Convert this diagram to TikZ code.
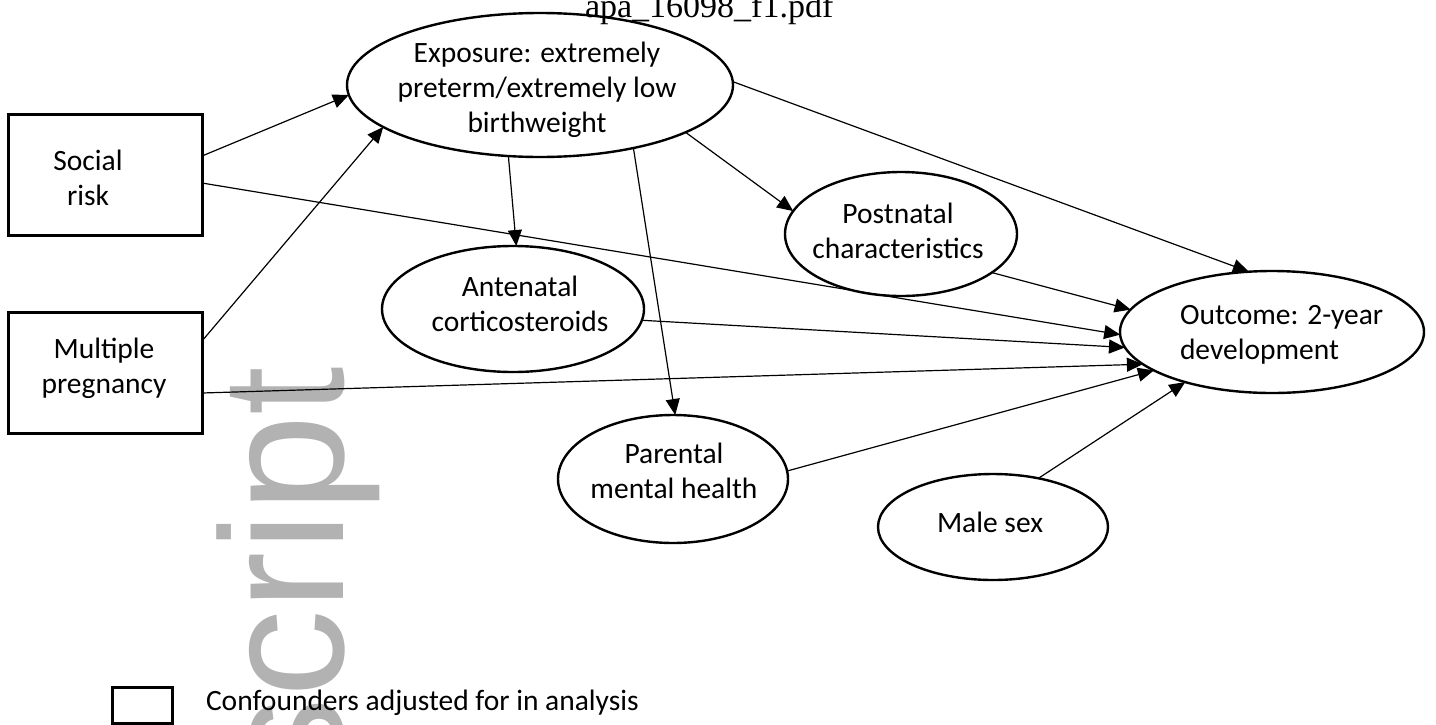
\documentclass[tikz,border=0pt]{standalone}
\usepackage{fontspec}
\setmainfont{Carlito}
\newfontfamily\titlefont{Liberation Serif}
\newfontfamily\wmfont{Liberation Sans}
\usetikzlibrary{arrows.meta,shapes.geometric}
\begin{document}
\begin{tikzpicture}[x=0.5pt,y=-0.5pt,
  every node/.style={inner sep=0pt, outer sep=0pt},
  lbl/.style={font=\fontsize{14.75pt}{17.5pt}\selectfont, align=center},
  conf/.style={draw, line width=1.5pt, rectangle, minimum width=97pt, minimum height=60.5pt},
  var/.style={draw, line width=1.2pt, ellipse},
  link/.style={line width=0.6pt, -{Triangle[length=8pt,width=7pt]}},
]
\useasboundingbox (0,0) rectangle (1436,724);
% watermark
\begin{scope}
\clip (0,0) rectangle (1436,724);
\node[rotate=90, anchor=base east, text=black!30, font=\wmfont\fontsize{87.5pt}{87.5pt}\selectfont] (wm) at (343,367) {script};
\end{scope}
% title
\node[anchor=base west, font=\titlefont\fontsize{17pt}{20pt}\selectfont] (title) at (585,17) {apa\_16098\_f1.pdf};
% confounders
\node[conf] (soc) at (105,174.5) {};
\node[conf] (mul) at (105,372.5) {};
\node[lbl] (socT) at (88,178) {Social\\risk};
\node[lbl] (mulT) at (104,368) {Multiple\\pregnancy};
% variables
\node[var, minimum width=193pt, minimum height=72pt] (exp) at (540,85) {};
\node[var, minimum width=131pt, minimum height=63pt] (ant) at (513,309) {};
\node[var, minimum width=116pt, minimum height=62pt] (pos) at (901,234) {};
\node[var, minimum width=115pt, minimum height=64pt] (par) at (673,479) {};
\node[var, minimum width=115pt, minimum height=53pt] (mal) at (993,527) {};
\node[var, minimum width=152pt, minimum height=61pt] (out) at (1272,332) {};
\node[lbl] (expT) at (537,90) {Exposure: extremely\\preterm/extremely low\\birthweight};
\node[lbl] (antT) at (520,304) {Antenatal\\corticosteroids};
\node[lbl] (posT) at (898,231) {Postnatal\\characteristics};
\node[lbl, align=left, anchor=west] (outT) at (1180,335) {Outcome: 2-year\\development};
\node[lbl] (parT) at (674,471) {Parental\\mental health};
\node[lbl] (malT) at (990,522) {Male sex};
% legend
\node[draw, line width=1.5pt, minimum width=30pt, minimum height=18pt] (leg) at (142,705) {};
\node[lbl, anchor=base west] (legT) at (206,710) {Confounders adjusted for in analysis};
% connectors
\draw[link] ([yshift=9.25pt]soc.east) -- (exp.183);
\draw[link] ([yshift=-4.25pt]soc.east) -- (out.181.5);
\draw[link] ([yshift=15.75pt]mul.east) -- (exp.195);
\draw[link] ([yshift=-10.25pt]mul.east) -- (out.194);
\draw[link] (exp.246) -- (ant.87);
\draw[link] (exp.326) -- (par.88);
\draw[link] (exp.342) -- (pos.168);
\draw[link] (exp.1) -- (out.111);
\draw[link] (pos.337) -- (out.171);
\draw[link] (ant.355) -- (out.186);
\draw[link] (par.4.5) -- (out.198.7);
\draw[link] (mal.47) -- (out.210.5);
\end{tikzpicture}
\end{document}
